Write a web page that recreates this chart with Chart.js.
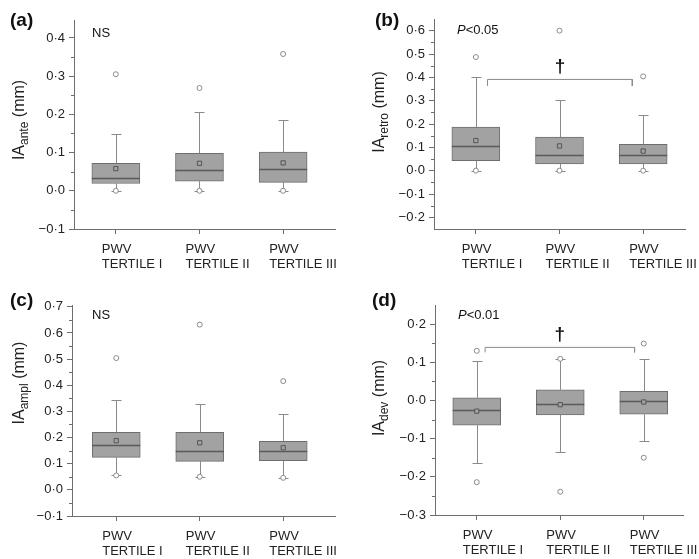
<!DOCTYPE html>
<html>
<head>
<meta charset="utf-8">
<script src="https://cdn.jsdelivr.net/npm/chart.js@4.4.0/dist/chart.umd.min.js"></script>
<style>
  body { margin: 0; background: #fff; overflow: hidden; }
  .panel { position: absolute; }
</style>
</head>
<body>
<div class="panel" style="left:0;top:0"><canvas id="chartA" width="350" height="280"></canvas></div>
<div class="panel" style="left:350px;top:0"><canvas id="chartB" width="350" height="280"></canvas></div>
<div class="panel" style="left:0;top:280px"><canvas id="chartC" width="350" height="280"></canvas></div>
<div class="panel" style="left:350px;top:280px"><canvas id="chartD" width="350" height="280"></canvas></div>
<script>
// categories
const groups = [['PWV', 'TERTILE I'], ['PWV', 'TERTILE II'], ['PWV', 'TERTILE III']];
const groupPos = [0, 1, 2];

// (a) IA ante
const anteQ1 = [0.019, 0.025, 0.022];
const anteMedian = [0.033, 0.054, 0.058];
const anteQ3 = [0.072, 0.098, 0.101];
const anteMean = [0.058, 0.072, 0.073];
const anteLow = [0.0, 0.0, 0.0];
const anteHigh = [0.149, 0.206, 0.184];
const anteOutLow = [0.0, 0.0, 0.0];
const anteOutHigh = [0.305, 0.269, 0.358];
const anteTicks = [-0.1, 0.0, 0.1, 0.2, 0.3, 0.4];

// (b) IA retro
const retroQ1 = [0.043, 0.029, 0.029];
const retroMedian = [0.106, 0.069, 0.066];
const retroQ3 = [0.187, 0.144, 0.113];
const retroMean = [0.129, 0.106, 0.084];
const retroLow = [0.0, 0.0, 0.0];
const retroHigh = [0.403, 0.301, 0.240];
const retroOutLow = [0.0, 0.0, 0.0];
const retroOutHigh = [0.487, 0.600, 0.404];
const retroTicks = [-0.2, -0.1, 0.0, 0.1, 0.2, 0.3, 0.4, 0.5, 0.6];
const retroBracketX = [0.14, 0.14, 1.87, 1.87];
const retroBracketY = [0.363, 0.391, 0.391, 0.363];

// (c) IA ampl
const amplQ1 = [0.124, 0.109, 0.112];
const amplMedian = [0.172, 0.149, 0.149];
const amplQ3 = [0.220, 0.220, 0.186];
const amplMean = [0.188, 0.180, 0.161];
const amplLow = [0.055, 0.050, 0.046];
const amplHigh = [0.345, 0.330, 0.292];
const amplOutLow = [0.055, 0.050, 0.046];
const amplOutHigh = [0.504, 0.632, 0.416];
const amplTicks = [-0.1, 0.0, 0.1, 0.2, 0.3, 0.4, 0.5, 0.6, 0.7];

// (d) IA dev
const devQ1 = [-0.065, -0.038, -0.036];
const devMedian = [-0.024, -0.008, -0.001];
const devQ3 = [0.007, 0.028, 0.024];
const devMean = [-0.028, -0.011, -0.004];
const devLow = [-0.165, -0.136, -0.107];
const devHigh = [0.103, 0.109, 0.109];
const devOutLow = [-0.214, -0.239, -0.150];
const devOutHigh = [0.130, 0.109, 0.149];
const devTicks = [-0.3, -0.2, -0.1, 0.0, 0.1, 0.2];
const devBracketX = [0.10, 0.10, 1.89, 1.89];
const devBracketY = [0.126, 0.139, 0.139, 0.126];

const FONT = '"Liberation Sans", Arial, sans-serif';
const AXIS = '#6e6e6e';
const BOX_FILL = '#a2a2a2';
const BOX_LINE = '#6e6e6e';
const WHISKER = '#8a8a8a';

function fmt(v) {
  const s = Math.abs(v).toFixed(1).replace('.', '\u00B7');
  return (v < -1e-9 ? '\u2212' : '') + s;
}

function pts(vals) {
  return vals.map((v, i) => (v === null ? null : { x: groupPos[i], y: v }));
}

// whiskers, medians, minor ticks and text
function makeDeco(p) {
  return {
    id: 'deco' + p.id,
    beforeDatasetsDraw(chart) {
      const { ctx, scales: { x, y } } = chart;
      ctx.save();
      ctx.strokeStyle = WHISKER;
      ctx.lineWidth = 1;
      p.q1.forEach((q1, i) => {
        const px = Math.round(x.getPixelForValue(groupPos[i])) + 0.5;
        [[p.q3[i], p.high[i]], [q1, p.low[i]]].forEach(([from, to]) => {
          const y0 = y.getPixelForValue(from);
          const y1 = Math.round(y.getPixelForValue(to)) + 0.5;
          ctx.beginPath();
          ctx.moveTo(px, y0);
          ctx.lineTo(px, y1);
          ctx.moveTo(px - 5, y1);
          ctx.lineTo(px + 5, y1);
          ctx.stroke();
        });
      });
      ctx.restore();
    },
    afterDatasetDraw(chart, args) {
      if (args.index !== 0) return;
      const { ctx, scales: { x, y } } = chart;
      ctx.save();
      ctx.strokeStyle = '#5a5a5a';
      ctx.lineWidth = 1.3;
      p.median.forEach((m, i) => {
        const px = x.getPixelForValue(groupPos[i]);
        const py = Math.round(y.getPixelForValue(m)) + 0.5;
        ctx.beginPath();
        ctx.moveTo(px - 24, py);
        ctx.lineTo(px + 24, py);
        ctx.stroke();
      });
      ctx.restore();
    },
    afterDraw(chart) {
      const { ctx, chartArea, scales: { x, y } } = chart;
      ctx.save();
      // minor ticks
      ctx.strokeStyle = AXIS;
      ctx.lineWidth = 1;
      for (let k = 0; k < p.ticks.length - 1; k++) {
        const py = Math.round(y.getPixelForValue((p.ticks[k] + p.ticks[k + 1]) / 2)) + 0.5;
        ctx.beginPath();
        ctx.moveTo(chartArea.left - 3, py);
        ctx.lineTo(chartArea.left, py);
        ctx.stroke();
      }
      // panel letter
      ctx.fillStyle = '#111';
      ctx.textBaseline = 'alphabetic';
      ctx.textAlign = 'left';
      ctx.font = 'bold 19px ' + FONT;
      ctx.fillText(p.letter, p.letterX, p.letterY);
      // note (NS / P<...)
      ctx.font = '13px ' + FONT;
      if (p.noteP) {
        ctx.font = 'italic 13px ' + FONT;
        ctx.fillText('P', p.noteX, p.noteY);
        const w = ctx.measureText('P').width;
        ctx.font = '13px ' + FONT;
        ctx.fillText(p.note, p.noteX + w, p.noteY);
      } else {
        ctx.fillText(p.note, p.noteX, p.noteY);
      }
      // dagger above bracket
      if (p.bracketX) {
        ctx.font = 'bold 19px ' + FONT;
        ctx.textAlign = 'center';
        const bx = x.getPixelForValue((p.bracketX[0] + p.bracketX[3]) / 2);
        const by = y.getPixelForValue(p.bracketY[1]);
        ctx.fillText('\u2020', bx, by - 7);
      }
      // y axis title with subscript
      ctx.translate(p.titleX, p.titleY);
      ctx.rotate(-Math.PI / 2);
      ctx.textAlign = 'left';
      const big = '16px ' + FONT, small = '12px ' + FONT;
      ctx.font = big; const w1 = ctx.measureText('IA').width;
      ctx.font = small; const w2 = ctx.measureText(p.sub).width;
      ctx.font = big; const w3 = ctx.measureText(' (mm)').width;
      let tx = -(w1 + w2 + w3) / 2;
      ctx.fillStyle = '#222';
      ctx.font = big; ctx.fillText('IA', tx, 0); tx += w1;
      ctx.font = small; ctx.fillText(p.sub, tx, 4); tx += w2;
      ctx.font = big; ctx.fillText(' (mm)', tx, 0);
      ctx.restore();
    }
  };
}

function makeChart(p) {
  const datasets = [
    {
      type: 'bar',
      data: p.q1.map((q1, i) => ({ x: groupPos[i], y: [q1, p.q3[i]] })),
      backgroundColor: BOX_FILL,
      borderColor: BOX_LINE,
      borderWidth: 1,
      borderSkipped: false,
      barThickness: 48,
      order: 10
    },
    {
      type: 'line',
      data: pts(p.mean),
      showLine: false,
      pointStyle: 'rect',
      pointRadius: 3,
      pointBackgroundColor: BOX_FILL,
      pointBorderColor: '#555',
      pointBorderWidth: 1,
      order: 2
    },
    {
      type: 'line',
      data: pts(p.outHigh).concat(pts(p.outLow)),
      showLine: false,
      pointStyle: 'circle',
      pointRadius: 2.5,
      pointBackgroundColor: '#fff',
      pointBorderColor: '#8a8a8a',
      pointBorderWidth: 1,
      order: 1
    }
  ];
  if (p.bracketX) {
    datasets.push({
      type: 'line',
      data: p.bracketX.map((bx, i) => ({ x: bx, y: p.bracketY[i] })),
      borderColor: '#8a8a8a',
      borderWidth: 1,
      pointRadius: 0,
      tension: 0,
      order: 1
    });
  }
  const a = p.area;
  new Chart(document.getElementById(p.id), {
    type: 'bar',
    data: { datasets },
    options: {
      responsive: false,
      animation: false,
      events: [],
      layout: { padding: { left: 0, top: a[1], right: 350 - a[2], bottom: 0 } },
      plugins: { legend: { display: false }, tooltip: { enabled: false } },
      scales: {
        x: {
          type: 'linear',
          min: p.xMin,
          max: p.xMax,
          offset: false,
          afterBuildTicks: s => { s.ticks = groupPos.map(v => ({ value: v })); },
          afterFit: s => { s.height = 280 - a[3]; s.paddingLeft = 0; s.paddingRight = 0; },
          grid: { display: true, drawOnChartArea: false, drawTicks: true, tickLength: 5, tickColor: AXIS, offset: false },
          border: { display: true, color: AXIS, width: 1 },
          ticks: {
            callback: v => groups[v],
            align: 'start',
            labelOffset: -14,
            padding: 8,
            maxRotation: 0,
            autoSkip: false,
            color: '#222',
            font: { family: FONT, size: 13, lineHeight: 1.15 }
          }
        },
        y: {
          type: 'linear',
          min: p.yMin,
          max: p.yMax,
          afterBuildTicks: s => { s.ticks = p.ticks.map(v => ({ value: v })); },
          afterFit: s => { s.width = a[0]; s.paddingTop = 0; s.paddingBottom = 0; },
          grid: { display: true, drawOnChartArea: false, drawTicks: true, tickLength: 5, tickColor: AXIS },
          border: { display: true, color: AXIS, width: 1 },
          ticks: {
            callback: v => fmt(v),
            padding: 4,
            color: '#222',
            font: { family: FONT, size: 13 }
          }
        }
      }
    },
    plugins: [makeDeco(p)]
  });
}

const panels = [
  {
    id: 'chartA', letter: '(a)', note: 'NS', noteP: false, sub: 'ante',
    q1: anteQ1, median: anteMedian, q3: anteQ3, mean: anteMean, low: anteLow, high: anteHigh,
    outLow: anteOutLow, outHigh: anteOutHigh, ticks: anteTicks,
    yMin: -0.1, yMax: 0.447, xMin: -0.5, xMax: 2.62,
    area: [74, 20, 335, 229], letterX: 10, letterY: 26, noteX: 92, noteY: 37, titleX: 24, titleY: 120
  },
  {
    id: 'chartB', letter: '(b)', note: '<0.05', noteP: true, sub: 'retro',
    q1: retroQ1, median: retroMedian, q3: retroQ3, mean: retroMean, low: retroLow, high: retroHigh,
    outLow: retroOutLow, outHigh: retroOutHigh, ticks: retroTicks,
    bracketX: retroBracketX, bracketY: retroBracketY,
    yMin: -0.25, yMax: 0.65, xMin: -0.5, xMax: 2.5,
    area: [84, 19, 335, 229], letterX: 25, letterY: 26, noteX: 107, noteY: 34, titleX: 34, titleY: 112
  },
  {
    id: 'chartC', letter: '(c)', note: 'NS', noteP: false, sub: 'ampl',
    q1: amplQ1, median: amplMedian, q3: amplQ3, mean: amplMean, low: amplLow, high: amplHigh,
    outLow: amplOutLow, outHigh: amplOutHigh, ticks: amplTicks,
    yMin: -0.1, yMax: 0.707, xMin: -0.53, xMax: 2.62,
    area: [72, 25, 335, 236], letterX: 10, letterY: 26, noteX: 92, noteY: 39, titleX: 24, titleY: 103
  },
  {
    id: 'chartD', letter: '(d)', note: '<0.01', noteP: true, sub: 'dev',
    q1: devQ1, median: devMedian, q3: devQ3, mean: devMean, low: devLow, high: devHigh,
    outLow: devOutLow, outHigh: devOutHigh, ticks: devTicks,
    bracketX: devBracketX, bracketY: devBracketY,
    yMin: -0.3, yMax: 0.25, xMin: -0.5, xMax: 2.47,
    area: [85, 25, 333, 235], letterX: 22, letterY: 26, noteX: 108, noteY: 39, titleX: 34, titleY: 118
  }
];

panels.forEach(makeChart);
</script>
</body>
</html>
